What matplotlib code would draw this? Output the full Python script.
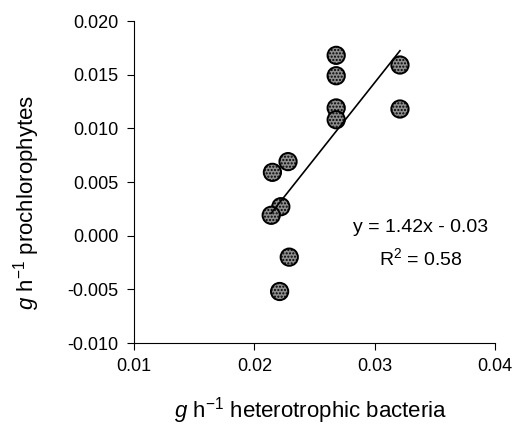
import numpy as np
import matplotlib.pyplot as plt

plt.rcParams['font.family'] = ['Liberation Sans', 'DejaVu Sans']
plt.rcParams['mathtext.fontset'] = 'custom'
plt.rcParams['mathtext.rm'] = 'Liberation Sans'
plt.rcParams['mathtext.it'] = 'Liberation Sans:italic'

# growth rates
bacteria = [0.0268, 0.0268, 0.0268, 0.0268, 0.0321, 0.0321,
            0.0215, 0.0228, 0.0222, 0.0214, 0.0229, 0.0221]
prochl = [0.0168, 0.0149, 0.0119, 0.0108, 0.0159, 0.0118,
          0.0059, 0.0069, 0.0027, 0.0019, -0.0020, -0.0052]

xticks = [0.01, 0.02, 0.03, 0.04]
yticks = [-0.010, -0.005, 0.000, 0.005, 0.010, 0.015, 0.020]

x = np.array(bacteria)
y = np.array(prochl)
slope, intercept = np.polyfit(x, y, 1)
xl = np.array([x.min(), x.max()])

fig = plt.figure(figsize=(5.2, 4.26), dpi=100)
ax = fig.add_axes([0.2577, 0.1948, 0.6943, 0.7559])

ax.plot(xl, slope * xl + intercept, color='black', lw=1.2, zorder=3)
ax.scatter(x, y, s=155, facecolor='#8e8e8e', edgecolor='black',
           linewidth=1.4, hatch='.....', zorder=2)

ax.set_xlim(0.01, 0.04)
ax.set_ylim(-0.010, 0.020)
ax.set_xticks(xticks)
ax.set_xticklabels(['%.2f' % v for v in xticks])
ax.set_yticks(yticks)
ax.set_yticklabels(['%.3f' % v for v in yticks])
ax.tick_params(labelsize=13, length=5, width=0.8, direction='out', pad=6)
ax.spines['top'].set_visible(False)
ax.spines['right'].set_visible(False)
for s in ['left', 'bottom']:
    ax.spines[s].set_linewidth(0.8)

# axis titles
fig.text(311 / 520, 1 - 411 / 426, r'$\mathit{g}$ h$^{-1}$ heterotrophic bacteria',
         fontsize=16, ha='center', va='center')
fig.text(27 / 520, 1 - 202 / 426, r'$\mathit{g}$ h$^{-1}$ prochlorophytes',
         fontsize=16, ha='center', va='center', rotation=90)

ax.text(0.0338, -0.0008, 'y = 1.42x - 0.03\nR$^2$ = 0.58', fontsize=14,
        ha='center', va='center', linespacing=1.6)

fig.savefig('out.png', dpi=100)
